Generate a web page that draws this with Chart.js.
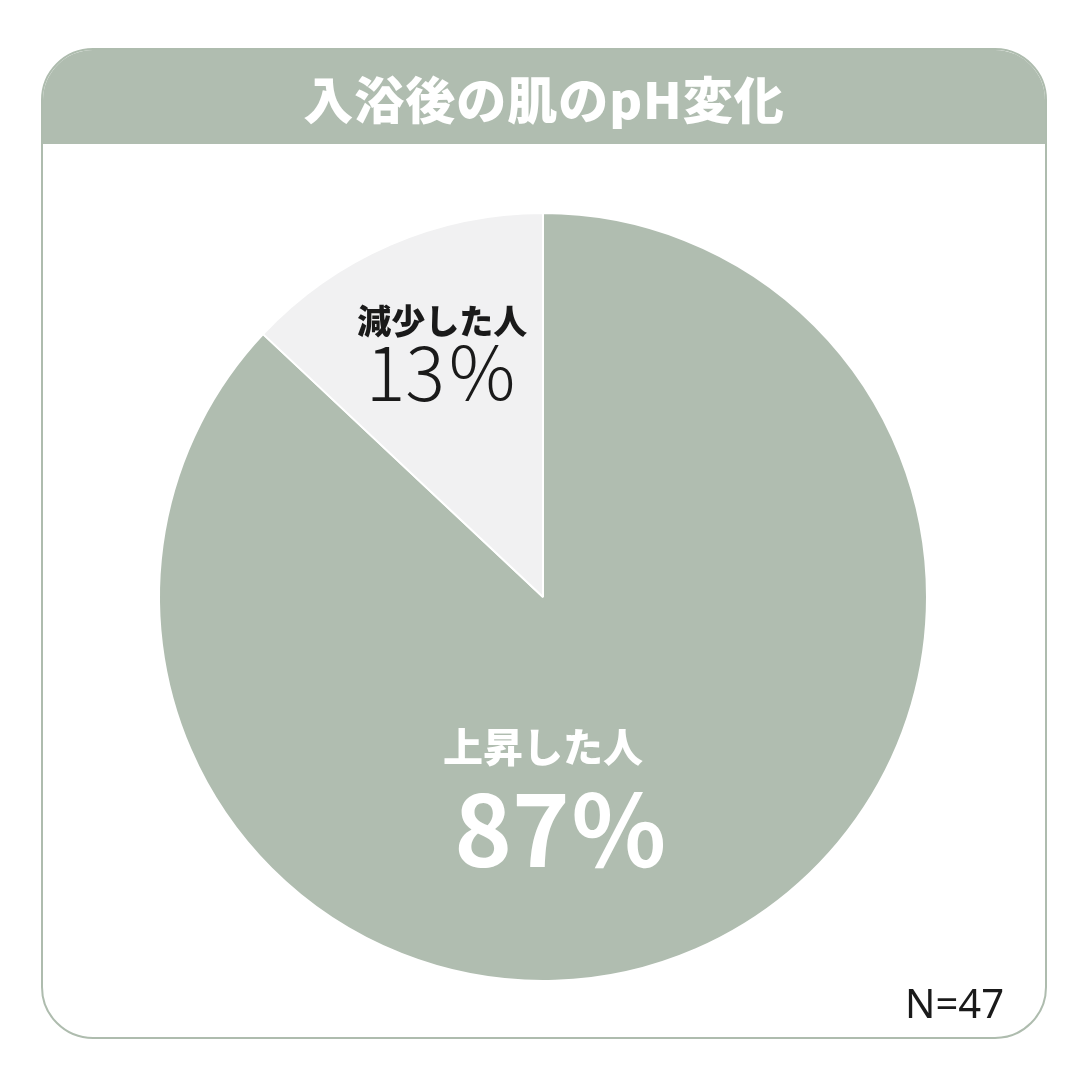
<!DOCTYPE html>
<html lang="ja">
<head>
<meta charset="utf-8">
<script src="https://cdn.jsdelivr.net/npm/chart.js@4/dist/chart.umd.min.js"></script>
<style>
  html, body { margin: 0; padding: 0; background: #fff; }
  body { width: 1080px; height: 1080px; position: relative; overflow: hidden;
         font-family: "Noto Sans CJK JP", "Noto Sans", sans-serif; }
  .card { position: absolute; left: 41px; top: 48px; width: 1006px; height: 991px;
          border: 2px solid #aebcae; border-radius: 52px; box-sizing: border-box; overflow: hidden; }
  .head { height: 94px; background: #b0bdb0; color: #fff; font-weight: 900; font-size: 50px;
          text-align: center; line-height: 94px; letter-spacing: 1px; }
  .note { position: absolute; left: 905px; top: 975px; font-family: "Noto Sans", sans-serif;
          font-size: 40px; color: #1a1a1a; }
  #pie { position: absolute; left: 0; top: 0; }
</style>
</head>
<body>
<div class="card">
  <div class="head">入浴後の肌のpH変化</div>
</div>
<canvas id="pie" width="1080" height="1080"></canvas>
<div class="note">N=47</div>
<script>
// data
const labels = ['上昇した人', '減少した人'];
const shares = [87, 13];
const colors = ['#b0bdb0', '#f1f1f2'];
const textColors = ['#ffffff', '#1a1a1a'];

// label placement per slice: angle from 12 o'clock (deg, clockwise), distance as fraction of radius
const labelPlace = [{ deg: 180, r: 0.5 }, { deg: -22, r: 0.7 }];
const nameFont = ['900 40px "Noto Sans CJK JP"', '900 34px "Noto Sans CJK JP"'];
const pctFont = ['700 98px "Noto Sans CJK JP"', '300 74px "Noto Sans CJK JP"'];
const lineOffset = [[-42, 41], [-27, 25]];
const pctShiftX = [18, 0];

const sliceLabels = {
  id: 'sliceLabels',
  afterDatasetsDraw(chart) {
    const c = chart.ctx;
    const total = shares.reduce((a, b) => a + b, 0);
    chart.getDatasetMeta(0).data.forEach((arc, i) => {
      const p = labelPlace[i];
      const a = p.deg * Math.PI / 180;
      const x = arc.x + Math.sin(a) * arc.outerRadius * p.r;
      const y = arc.y - Math.cos(a) * arc.outerRadius * p.r;
      c.save();
      c.fillStyle = textColors[i];
      c.textAlign = 'center';
      c.textBaseline = 'middle';
      c.font = nameFont[i];
      c.fillText(labels[i], x, y + lineOffset[i][0]);
      c.font = pctFont[i];
      c.fillText(Math.round(shares[i] / total * 100) + '％', x + pctShiftX[i], y + lineOffset[i][1]);
      c.restore();
    });
  }
};

new Chart(document.getElementById('pie'), {
  type: 'pie',
  data: {
    labels: labels,
    datasets: [{
      data: shares,
      backgroundColor: colors,
      borderColor: '#ffffff',
      borderWidth: 2
    }]
  },
  options: {
    responsive: false,
    animation: false,
    layout: { padding: { left: 158, right: 152, top: 212, bottom: 98 } },
    plugins: { legend: { display: false }, tooltip: { enabled: false } }
  },
  plugins: [sliceLabels]
});
</script>
</body>
</html>
